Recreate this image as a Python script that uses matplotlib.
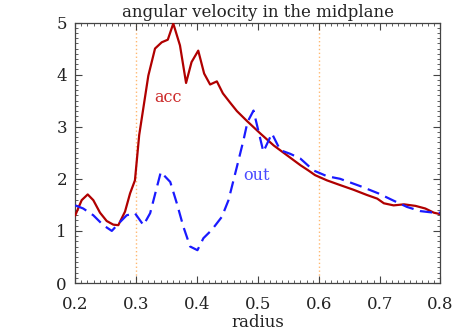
import matplotlib
matplotlib.use("Agg")
import matplotlib.pyplot as plt
from matplotlib.ticker import MultipleLocator

# acc curve (solid red)
acc_r = [0.200, 0.2105, 0.2204, 0.2296, 0.2406, 0.2516, 0.2625, 0.2707, 0.2817, 0.290, 0.298,
         0.305, 0.320, 0.331, 0.342, 0.352, 0.361, 0.372, 0.382, 0.391, 0.402, 0.4117, 0.4215,
         0.4326, 0.4425, 0.4545, 0.4655, 0.482, 0.504, 0.526, 0.548, 0.570, 0.583, 0.594,
         0.6135, 0.635, 0.657, 0.679, 0.696, 0.707, 0.723, 0.740, 0.759, 0.775, 0.789, 0.800]
acc_w = [1.30, 1.59, 1.70, 1.59, 1.35, 1.19, 1.12, 1.11, 1.37, 1.72, 1.97,
         2.84, 3.98, 4.50, 4.62, 4.67, 4.98, 4.56, 3.84, 4.24, 4.46, 4.02, 3.81,
         3.87, 3.64, 3.46, 3.30, 3.11, 2.87, 2.64, 2.45, 2.26, 2.16, 2.07,
         1.97, 1.88, 1.79, 1.69, 1.62, 1.53, 1.49, 1.51, 1.48, 1.43, 1.35, 1.32]

# out curve (dashed blue)
out_r = [0.200, 0.213, 0.2296, 0.246, 0.260, 0.271, 0.2845, 0.298, 0.312, 0.323, 0.3405,
         0.356, 0.3668, 0.3776, 0.3887, 0.4007, 0.4105, 0.4243, 0.4408, 0.4517, 0.4655,
         0.4763, 0.4829, 0.4928, 0.509, 0.523, 0.5367, 0.553, 0.5696, 0.5915, 0.6135,
         0.635, 0.668, 0.698, 0.723, 0.745, 0.767, 0.789, 0.800]
out_w = [1.49, 1.43, 1.30, 1.11, 1.00, 1.14, 1.30, 1.34, 1.11, 1.34, 2.13,
         1.94, 1.53, 1.08, 0.70, 0.63, 0.86, 1.02, 1.27, 1.59, 2.23,
         2.74, 3.09, 3.31, 2.52, 2.87, 2.55, 2.48, 2.39, 2.16, 2.05,
         2.00, 1.86, 1.72, 1.58, 1.46, 1.38, 1.35, 1.35]

vlines_r = [0.3, 0.6]
xticks = [0.2, 0.3, 0.4, 0.5, 0.6, 0.7, 0.8]
xticklabels = ["0.2", "0.3", "0.4", "0.5", "0.6", "0.7", "0.8"]
yticks = [0, 1, 2, 3, 4, 5]
yticklabels = ["0", "1", "2", "3", "4", "5"]
title = "angular velocity in the midplane"
xlabel = "radius"

plt.rcParams['font.family'] = ['DejaVu Serif']
fig = plt.figure(figsize=(4.63, 3.31), dpi=100)
ax = fig.add_axes([0.1626, 0.145, 0.7888, 0.787])

for v in vlines_r:
    ax.axvline(v, color='#ffb870', lw=1.0, ls=(0, (1, 1.8)), zorder=1)

ax.plot(acc_r, acc_w, color='#b00000', lw=1.6, zorder=3)
ax.plot(out_r, out_w, color='#1a1aff', lw=1.6, ls=(0, (5.5, 3)), zorder=4)

ax.text(0.352, 3.56, "acc", color='#cc2a2a', fontsize=11.5, ha='center', va='center')
ax.text(0.497, 2.06, "out", color='#4a4aff', fontsize=11.5, ha='center', va='center')

ax.set_xlim(0.2, 0.8)
ax.set_ylim(0, 5)
ax.set_xticks(xticks)
ax.set_xticklabels(xticklabels)
ax.set_yticks(yticks)
ax.set_yticklabels(yticklabels)
ax.xaxis.set_minor_locator(MultipleLocator(0.01))
ax.yaxis.set_minor_locator(MultipleLocator(0.1))
ax.tick_params(which='both', direction='in', top=True, right=True, colors='#444444',
               labelcolor='#222222', labelsize=12)
ax.tick_params(axis='x', which='major', length=5, width=0.8, pad=9)
ax.tick_params(axis='y', which='major', length=5, width=0.8, pad=6)
ax.tick_params(which='minor', length=2.5, width=0.6)
for s in ax.spines.values():
    s.set_color('#444444')
    s.set_linewidth(0.9)

ax.set_title(title, fontsize=12, color='#222222', pad=4)
ax.set_xlabel(xlabel, fontsize=12, color='#222222', labelpad=1)

fig.savefig("out.png", dpi=100)
